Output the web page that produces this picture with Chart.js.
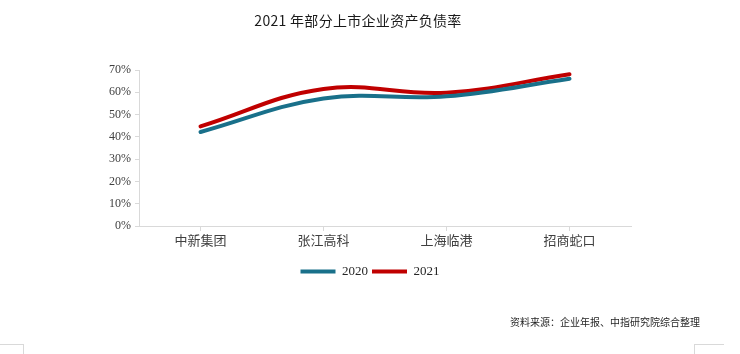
<!DOCTYPE html>
<html>
<head>
<meta charset="utf-8">
<script src="https://cdn.jsdelivr.net/npm/chart.js@4"></script>
<style>
  html, body { margin: 0; padding: 0; background: #fff; }
  #wrap { position: relative; width: 740px; height: 354px; }
  #title {
    position: absolute; left: 0; top: 10px; width: 716px; text-align: center;
    font: 14px "Noto Sans CJK SC", sans-serif; color: #1a1a1a; letter-spacing: 0.3px;
  }
  #source {
    position: absolute; left: 510px; top: 314px;
    font: 10px "Noto Sans CJK SC", sans-serif; color: #262626;
  }
  .corner { position: absolute; border-color: #d9d9d9; border-style: solid; border-width: 0; }
</style>
</head>
<body>
<div id="wrap">
  <canvas id="c" width="740" height="354"></canvas>
  <div id="title">2021 年部分上市企业资产负债率</div>
  <div id="source">资料来源：企业年报、中指研究院综合整理</div>
  <div class="corner" style="left:0;top:344px;width:23px;height:10px;border-top-width:1px;border-right-width:1px;"></div>
  <div class="corner" style="left:694px;top:344px;width:29px;height:10px;border-top-width:1px;border-left-width:1px;"></div>
</div>
<script>
// 数据
const categories = ['中新集团', '张江高科', '上海临港', '招商蛇口'];
const data2020 = [42.2, 57.2, 58.2, 66.1];
const data2021 = [44.7, 61.5, 59.8, 68.1];
const yTicks = [0, 10, 20, 30, 40, 50, 60, 70];

const serif = '"Liberation Serif", "Noto Sans CJK SC", serif';

new Chart(document.getElementById('c'), {
  type: 'line',
  data: {
    labels: categories,
    datasets: [
      { label: '2020', data: data2020, borderColor: '#19708a', backgroundColor: '#19708a' },
      { label: '2021', data: data2021, borderColor: '#c00000', backgroundColor: '#c00000' }
    ]
  },
  options: {
    responsive: false,
    animation: false,
    layout: { padding: { left: 0, right: 0, top: 70, bottom: 66 } },
    elements: {
      line: { borderWidth: 4, tension: 0.4, borderCapStyle: 'round' },
      point: { radius: 0 }
    },
    plugins: {
      title: { display: false },
      legend: {
        position: 'bottom',
        labels: {
          boxWidth: 35, boxHeight: 4, padding: 4,
          color: '#262626',
          font: { family: serif, size: 13 },
          generateLabels: chart => Chart.defaults.plugins.legend.labels.generateLabels(chart)
            .map(l => Object.assign(l, { lineWidth: 0 }))
        }
      },
      tooltip: { enabled: false }
    },
    scales: {
      x: {
        offset: true,
        border: { color: '#d9d9d9' },
        grid: { drawOnChartArea: false, tickLength: 5, color: '#d9d9d9' },
        ticks: { color: '#404040', padding: 3, font: { family: serif, size: 13 } },
        afterFit: s => { s.height = 35; }
      },
      y: {
        min: 0, max: 70,
        border: { color: '#d9d9d9' },
        grid: { drawOnChartArea: false, tickLength: 4, color: '#d9d9d9' },
        afterBuildTicks: s => { s.ticks = yTicks.map(v => ({ value: v })); },
        ticks: { color: '#404040', padding: 4, font: { family: serif, size: 12 }, callback: v => v + '%' },
        afterFit: s => { s.width = 139; }
      },
      // 右侧留白用的空轴
      yr: {
        position: 'right',
        display: true,
        border: { display: false },
        grid: { display: false },
        ticks: { display: false },
        afterFit: s => { s.width = 109; }
      }
    }
  }
});
</script>
</body>
</html>
